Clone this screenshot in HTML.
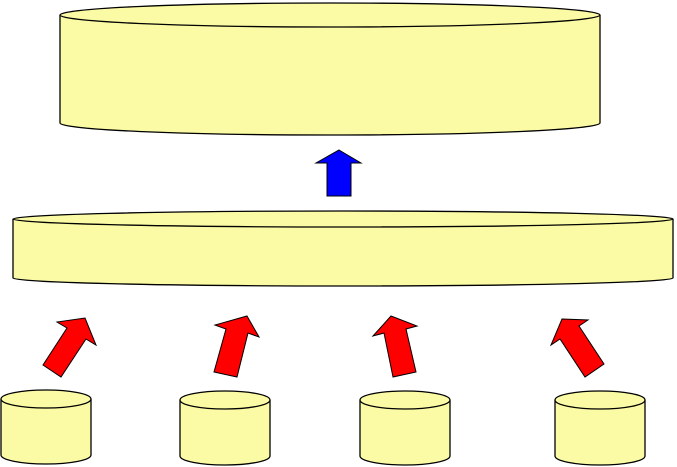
<!DOCTYPE html>
<html><head><meta charset="utf-8"><style>html,body{margin:0;padding:0;background:#fff}svg{display:block}</style></head>
<body>
<svg width="677" height="467" viewBox="0 0 677 467" xmlns="http://www.w3.org/2000/svg">
<g fill="#ffff99" stroke="#000" stroke-width="1.3" fill-opacity="1">
<!-- top big cylinder -->
<path d="M60,15 L60,123 A270,12 0 0 0 600,123 L600,15" fill="#fbfba6"/>
<ellipse cx="330" cy="15" rx="270" ry="12" fill="#fbfba6"/>
<!-- middle cylinder -->
<path d="M13,219 L13,278 A330,8 0 0 0 673,278 L673,219" fill="#fbfba6"/>
<ellipse cx="343" cy="219" rx="330" ry="8" fill="#fbfba6"/>
<!-- small cylinders -->
<path d="M1,399 L1,455 A45,9 0 0 0 91,455 L91,399" fill="#fbfba6"/>
<ellipse cx="46" cy="399" rx="45" ry="9" fill="#fbfba6"/>
<path d="M180,400 L180,456 A45,9 0 0 0 270,456 L270,400" fill="#fbfba6"/>
<ellipse cx="225" cy="400" rx="45" ry="9" fill="#fbfba6"/>
<path d="M360,400 L360,456 A45,9 0 0 0 450,456 L450,400" fill="#fbfba6"/>
<ellipse cx="405" cy="400" rx="45" ry="9" fill="#fbfba6"/>
<path d="M555,400 L555,456 A45,9 0 0 0 645,456 L645,400" fill="#fbfba6"/>
<ellipse cx="600" cy="400" rx="45" ry="9" fill="#fbfba6"/>
</g>
<!-- blue arrow -->
<polygon points="339,150 361,163 351,163 351,196 327,196 327,163 316,163" fill="#0000ff" stroke="#000" stroke-width="1"/>
<!-- red arrows -->
<g fill="#ff0000" stroke="#000" stroke-width="1">
<polygon points="85,318 96,345 86,339 61,377 43,365 67,328 57,322"/>
<polygon points="247,316 259,337 248,333 237,377 214,372 226,329 215,325"/>
<polygon points="391,316 417,326 406,329 416,372 393,377 384,333 373,336"/>
<polygon points="562,319 588,320 579,326 604,364 585,377 560,339 551,345"/>
</g>
</svg>
</body></html>
